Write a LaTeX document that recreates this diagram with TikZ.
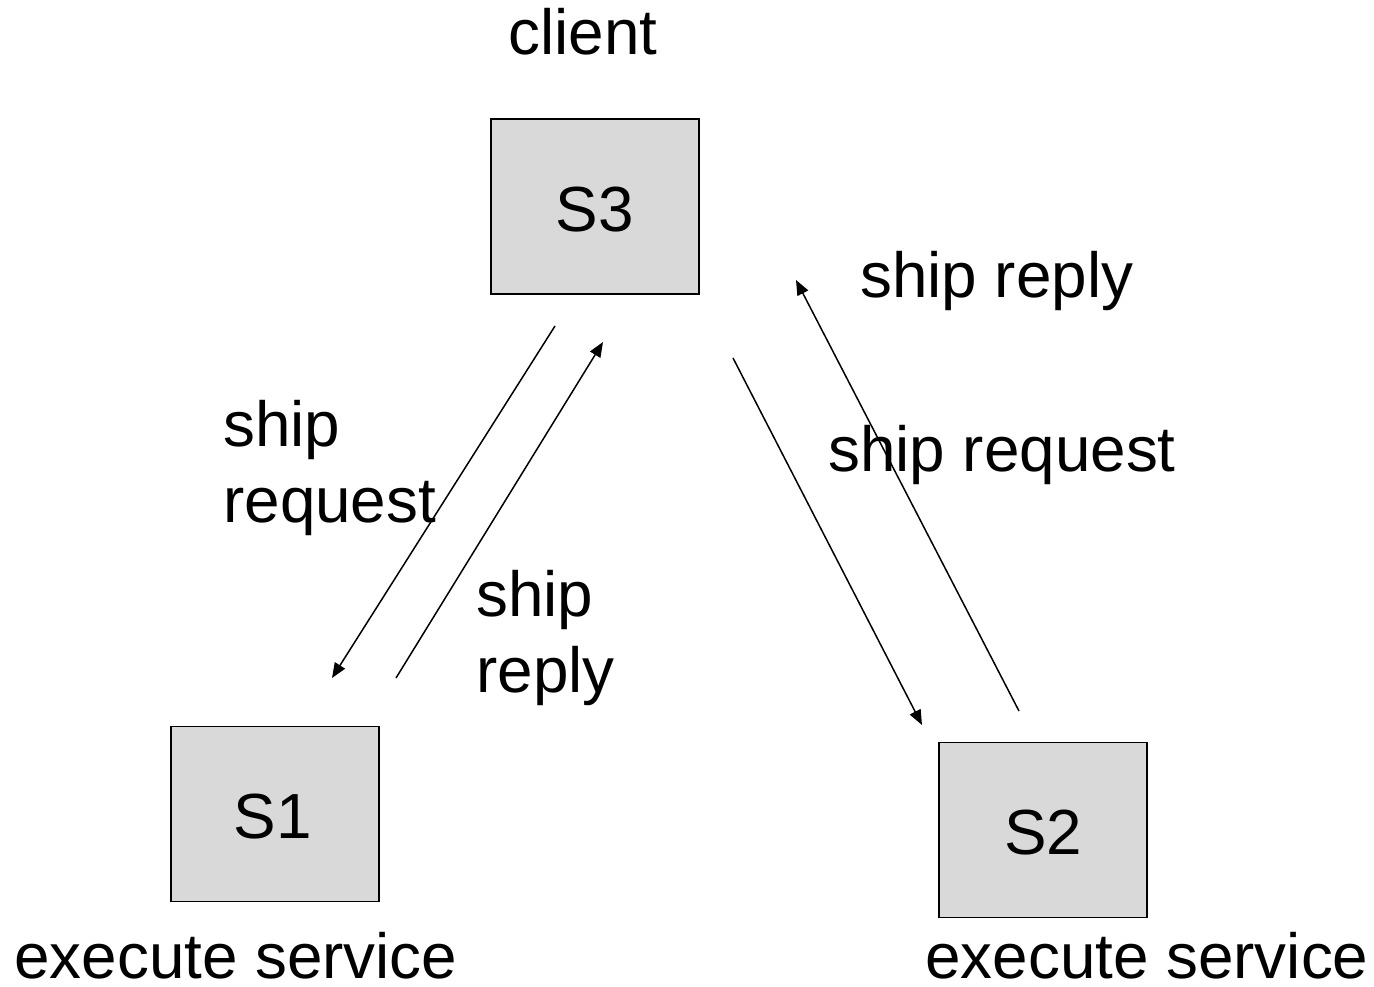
\documentclass[tikz,border=0pt]{standalone}
\usepackage{fontspec}
\setmainfont{Liberation Sans}
\usetikzlibrary{arrows.meta}
\definecolor{boxgray}{HTML}{D9D9D9}
\begin{document}
\begin{tikzpicture}[x=0.02cm,y=-0.02cm,
  server/.style={draw=black, line width=1.1pt, fill=boxgray,
    minimum width=4.16cm, minimum height=3.5cm, inner sep=0pt},
  lbl/.style={inner sep=0pt, font=\fontsize{36.3}{43}\selectfont},
  msg/.style={line width=0.85pt, -{Triangle[length=8.5pt,width=6.8pt]}}]
\useasboundingbox (0,0) rectangle (1374,987);
% servers
\node[server] (s3) at (595,206.5) {};
\node[server] (s1) at (275,814) {};
\node[server] (s2) at (1043,830) {};
\node[lbl, anchor=base] (s3t) at (595,231) {S3};
\node[lbl, anchor=base] (s1t) at (273,838) {S1};
\node[lbl, anchor=base] (s2t) at (1043,854) {S2};
% roles
\node[lbl, anchor=base] (client) at (583,54) {client};
\node[lbl, anchor=base west] (ex1) at (14,978) {execute service};
\node[lbl, anchor=base west] (ex2) at (925,978) {execute service};
% message end points
\coordinate (a1) at (555,326);  \coordinate (b1) at (332,678);
\coordinate (a2) at (396,678);  \coordinate (b2) at (603,342);
\coordinate (a3) at (733,358);  \coordinate (b3) at (922,725);
\coordinate (a4) at (1019,711); \coordinate (b4) at (796,280);
\draw[msg] (a1) -- (b1);
\draw[msg] (a2) -- (b2);
\draw[msg] (a3) -- (b3);
\draw[msg] (a4) -- (b4);
% message labels
\node[lbl, anchor=north west, align=left] (req1) at (223,400) {ship\\request};
\node[lbl, anchor=north west, align=left] (rep1) at (476,570) {ship\\reply};
\node[lbl, anchor=base west] (rep2) at (860,297) {ship reply};
\node[lbl, anchor=base west] (req2) at (828,471) {ship request};
\end{tikzpicture}
\end{document}
